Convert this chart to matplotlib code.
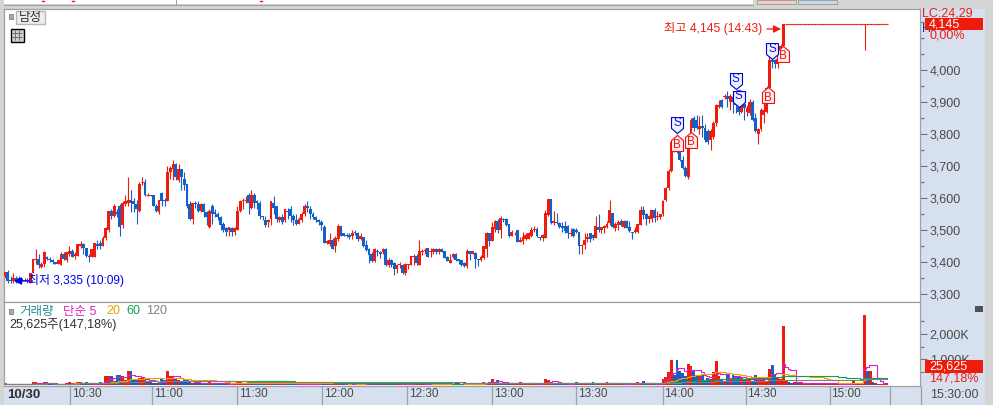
import numpy as np
import pandas as pd
import matplotlib
matplotlib.use("Agg")
import matplotlib.pyplot as plt
from matplotlib.patches import Rectangle
from matplotlib.path import Path

plt.rcParams['font.family'] = ['Liberation Sans', 'Noto Sans CJK KR', 'DejaVu Sans']

# 1 minute candles, one row of numbers = 10 candles
opens = [
    3355,3370,3345,3340,3350,3350,3345,3340,3345,3335,
    3365,3405,3410,3385,3395,3415,3410,3405,3400,3395,
    3390,3425,3405,3425,3435,3420,3420,3450,3455,3445,
    3420,3415,3415,3455,3460,3450,3475,3500,3560,3545,
    3555,3575,3515,3580,3585,3595,3590,3580,3560,3650,
    3650,3610,3610,3610,3575,3555,3615,3595,3590,3680,
    3690,3705,3655,3690,3660,3645,3580,3535,3585,3580,
    3560,3580,3555,3510,3575,3555,3550,3540,3520,3505,
    3500,3505,3495,3500,3560,3590,3595,3610,3570,3610,
    3590,3585,3545,3530,3525,3535,3585,3575,3530,3540,
    3530,3560,3565,3545,3530,3520,3530,3550,3575,3565,
    3550,3540,3530,3525,3510,3460,3455,3470,3450,3472,
    3512,3490,3485,3485,3482,3493,3492,3472,3477,3452,
    3440,3425,3403,3434,3432,3432,3440,3390,3406,3398,
    3378,3390,3390,3366,3392,3391,3417,3419,3390,3431,
    3434,3444,3432,3432,3440,3432,3440,3434,3415,3398,
    3416,3425,3409,3405,3398,3388,3434,3426,3428,3408,
    3406,3414,3440,3490,3467,3502,3528,3500,3535,3535,
    3519,3482,3490,3500,3464,3467,3471,3473,3481,3500,
    3503,3477,3476,3476,3548,3597,3523,3525,3523,3512,
    3512,3512,3487,3503,3500,3493,3450,3453,3472,3490,
    3484,3476,3508,3500,3507,3508,3521,3553,3507,3517,
    3528,3509,3528,3509,3495,3493,3493,3516,3562,3550,
    3533,3534,3562,3540,3540,3550,3595,3630,3685,3775,
    3770,3745,3720,3695,3665,3765,3850,3845,3815,3825,
    3820,3810,3780,3790,3835,3885,3905,3915,3920,3900,
    3915,3900,3885,3870,3895,3870,3865,3900,3850,3800,
    3815,3860,3870,3945,4030,4030,4020,4035,4075,
]
highs = [
    3370,3375,3355,3365,3355,3355,3350,3350,3350,3365,
    3410,3440,3425,3400,3435,3420,3415,3410,3400,3405,
    3430,3430,3430,3450,3440,3430,3455,3465,3460,3445,
    3425,3440,3460,3470,3470,3480,3510,3560,3565,3580,
    3565,3580,3590,3610,3665,3625,3600,3595,3650,3665,
    3660,3615,3610,3610,3580,3595,3620,3600,3700,3700,
    3720,3710,3705,3690,3680,3645,3590,3585,3590,3590,
    3585,3585,3560,3565,3580,3565,3555,3545,3525,3510,
    3510,3510,3510,3575,3595,3600,3605,3615,3625,3615,
    3595,3590,3545,3545,3535,3590,3605,3575,3545,3550,
    3565,3570,3575,3550,3550,3540,3555,3580,3590,3575,
    3555,3545,3535,3530,3515,3470,3490,3475,3480,3518,
    3512,3492,3490,3490,3500,3500,3495,3490,3477,3468,
    3445,3430,3445,3440,3435,3445,3445,3412,3410,3400,
    3395,3400,3395,3398,3395,3420,3425,3425,3468,3440,
    3445,3445,3445,3445,3445,3445,3443,3435,3418,3425,
    3428,3428,3410,3405,3400,3440,3435,3435,3430,3410,
    3422,3450,3493,3490,3525,3530,3535,3543,3537,3537,
    3520,3500,3495,3500,3477,3495,3490,3495,3508,3512,
    3510,3478,3486,3562,3597,3597,3560,3552,3525,3525,
    3528,3515,3507,3506,3505,3493,3455,3490,3490,3490,
    3486,3544,3550,3510,3515,3528,3594,3553,3525,3530,
    3533,3530,3530,3528,3495,3508,3520,3575,3575,3552,
    3548,3562,3568,3560,3550,3595,3635,3690,3780,3790,
    3800,3775,3730,3700,3775,3850,3855,3860,3855,3860,
    3830,3815,3815,3840,3895,3905,3910,3925,3935,3925,
    3930,3915,3890,3895,3900,3890,3910,3905,3865,3820,
    3880,3900,3950,4050,4045,4035,4040,4080,4145,
]
lows = [
    3350,3335,3335,3335,3335,3340,3340,3340,3335,3335,
    3365,3395,3380,3380,3385,3405,3400,3395,3395,3395,
    3390,3405,3400,3420,3415,3410,3420,3445,3425,3415,
    3400,3415,3415,3440,3440,3450,3470,3495,3535,3540,
    3540,3480,3505,3575,3575,3555,3555,3520,3555,3640,
    3605,3605,3605,3575,3555,3550,3575,3575,3590,3660,
    3655,3655,3650,3625,3625,3570,3530,3520,3570,3555,
    3555,3540,3515,3505,3520,3540,3530,3500,3495,3480,
    3480,3480,3485,3500,3555,3565,3585,3550,3565,3570,
    3565,3535,3530,3510,3510,3515,3550,3525,3525,3520,
    3525,3535,3525,3515,3515,3520,3525,3545,3555,3535,
    3535,3525,3515,3500,3460,3455,3450,3440,3432,3465,
    3480,3480,3478,3472,3472,3485,3465,3470,3447,3435,
    3398,3400,3400,3420,3412,3425,3388,3385,3385,3358,
    3365,3380,3362,3358,3378,3390,3390,3390,3390,3422,
    3425,3415,3415,3425,3425,3425,3430,3412,3402,3397,
    3412,3403,3395,3388,3385,3382,3406,3425,3382,3388,
    3403,3408,3415,3450,3465,3495,3490,3476,3525,3512,
    3478,3480,3485,3462,3462,3456,3468,3472,3478,3495,
    3478,3470,3467,3474,3545,3520,3515,3520,3505,3495,
    3490,3476,3480,3478,3490,3425,3425,3440,3463,3464,
    3470,3474,3495,3492,3492,3505,3515,3505,3497,3500,
    3512,3505,3505,3493,3472,3490,3490,3515,3535,3516,
    3523,3526,3526,3530,3535,3545,3590,3625,3680,3745,
    3740,3715,3690,3665,3660,3755,3810,3815,3800,3790,
    3775,3770,3750,3785,3825,3880,3880,3910,3885,3875,
    3865,3865,3860,3865,3845,3855,3860,3840,3805,3770,
    3810,3835,3865,3940,4005,4005,4005,4030,4070,
]
closes = [
    3370,3340,3340,3350,3340,3345,3340,3345,3340,3365,
    3410,3410,3390,3395,3430,3410,3405,3400,3395,3405,
    3425,3410,3430,3435,3415,3425,3455,3455,3445,3420,
    3415,3440,3460,3450,3450,3475,3505,3560,3545,3575,
    3550,3510,3585,3590,3595,3585,3580,3565,3645,3650,
    3610,3610,3605,3575,3560,3595,3590,3590,3680,3695,
    3705,3665,3690,3665,3640,3575,3535,3585,3580,3560,
    3580,3555,3540,3560,3550,3550,3540,3515,3500,3495,
    3510,3495,3505,3560,3590,3595,3595,3585,3610,3585,
    3585,3545,3540,3515,3530,3590,3570,3535,3540,3525,
    3565,3555,3545,3530,3520,3535,3550,3575,3570,3550,
    3540,3530,3525,3515,3460,3465,3470,3440,3475,3512,
    3482,3482,3482,3478,3492,3490,3472,3482,3450,3437,
    3422,3403,3440,3431,3425,3440,3390,3406,3390,3378,
    3390,3394,3366,3393,3393,3419,3419,3396,3434,3434,
    3436,3417,3434,3440,3432,3440,3432,3413,3403,3406,
    3425,3406,3404,3390,3388,3434,3426,3434,3408,3406,
    3417,3450,3490,3467,3510,3528,3500,3537,3532,3515,
    3482,3493,3492,3464,3469,3477,3484,3490,3500,3503,
    3481,3475,3484,3552,3597,3523,3528,3523,3508,3507,
    3497,3492,3492,3482,3493,3450,3453,3469,3477,3472,
    3475,3512,3500,3508,3512,3519,3562,3508,3519,3526,
    3516,3528,3505,3497,3492,3500,3519,3562,3547,3533,
    3545,3562,3536,3545,3550,3590,3630,3685,3775,3750,
    3745,3720,3695,3670,3770,3845,3820,3820,3825,3820,
    3780,3775,3810,3835,3890,3890,3885,3920,3910,3920,
    3900,3890,3870,3890,3880,3880,3900,3845,3810,3815,
    3875,3875,3945,4030,4025,4020,4035,4075,4145,
]

# after the day high it stays at 4,145, one trade dips just after 15:00
tail_flat = [4145,4145,4145,4145,4145,4145,4145,4145,4145,4145,
             4145,4145,4145,4145,4145,4145,4145,4145,4145,4145,
             4145,4145,4145,4145,4145,4145,4145,4145,4145,4145,
             4145,4145,4145,4145,4145,4145,4145]
tail_lows = [4145,4145,4145,4145,4145,4145,4145,4145,4145,4145,
             4145,4145,4145,4145,4145,4145,4145,4145,4145,4145,
             4145,4145,4145,4145,4145,4145,4145,4145,4062,4145,
             4145,4145,4145,4145,4145,4145,4145]
opens = opens + tail_flat
highs = highs + tail_flat
lows = lows + tail_lows
closes = closes + tail_flat

# volume in K shares
volumes = [
    60,55,50,45,45,30,30,20,20,30,
    120,120,50,70,105,100,50,45,30,30,
    40,45,60,110,50,40,110,110,60,105,
    40,30,50,60,120,60,355,355,355,170,
    380,380,355,200,550,550,250,200,260,260,
    260,150,120,90,90,70,250,180,550,355,
    355,260,190,170,220,150,120,90,70,90,
    60,90,70,110,70,90,60,50,70,50,
    60,50,90,110,120,50,60,60,90,60,
    50,60,90,70,60,100,120,80,60,40,
    90,50,70,60,30,30,60,70,50,50,
    40,50,60,110,50,60,90,80,40,60,
    90,50,40,30,60,40,40,60,50,90,
    70,50,60,100,40,50,70,120,50,60,
    40,60,30,60,50,90,40,60,100,40,
    30,60,40,30,60,50,70,70,50,40,
    50,60,60,50,110,50,40,60,30,50,
    60,130,70,130,220,110,180,70,50,90,
    60,40,70,50,100,60,90,90,50,60,
    40,50,50,250,200,130,70,60,50,60,
    70,40,60,50,130,60,90,60,50,40,
    100,80,50,40,60,130,90,60,50,70,
    60,50,60,40,40,70,100,50,160,40,
    40,30,40,60,60,225,300,490,990,400,
    990,530,460,350,830,750,550,400,400,400,
    200,270,240,490,950,360,200,150,440,210,
    400,360,330,270,230,200,270,130,400,190,
    270,200,170,630,790,440,300,250,2310,200,
    130,80,130,100,90,60,60,70,60,50,
    70,50,70,60,70,50,70,50,40,50,
    40,40,50,160,70,90,50,2730,530,530,
    130,60,40,40,70,60,
]
# doji minutes whose volume bar is still blue
blue_doji = [280, 281, 283, 285, 288, 291, 295, 300, 305, 308, 310, 312]

price_ticks = [3300, 3400, 3500, 3600, 3700, 3800, 3900, 4000]
price_minor = [3350, 3450, 3550, 3650, 3750, 3850, 3950, 4050, 4100, 4150]
vol_major = [1000, 2000]
vol_minor = [500, 1500, 2500]
time_labels = ['10:30', '11:00', '11:30', '12:00', '12:30', '13:00', '13:30', '14:00', '14:30', '15:00']
time_pos = [23.2, 52.6, 82.9, 113.2, 143.6, 174.0, 204.0, 234.9, 264.5, 294.5]
ma_periods = [5, 20, 60, 120]
ma_colors = ['#e020c0', '#f0a000', '#10a050', '#808080']

# signal tags: index, price
sell_x = [240, 261, 262, 274]
sell_y = [3802, 3940, 3885, 4033]
buy_x = [240, 245, 272.6, 277.8]
buy_y = [3797, 3807, 3946, 4076]

RED = '#ee1c0c'
BLUE = '#1560c8'
BAND = '#d6e0ef'
GREY = '#d4d4d4'
LINE = '#a0a0a0'
TXT = '#4a4a4a'
W, H = 993, 405


def px_axes(fig, x0, y0, x1, y1):
    return fig.add_axes([x0 / W, 1 - y1 / H, (x1 - x0) / W, (y1 - y0) / H])


fig = plt.figure(figsize=(W / 100, H / 100), dpi=100)

# window furniture, in pixels
bg = fig.add_axes([0, 0, 1, 1], zorder=0)
bg.set_xlim(0, W)
bg.set_ylim(H, 0)
bg.axis('off')
bg.add_patch(Rectangle((0, 0), W, H, fc=GREY, ec='none'))
bg.add_patch(Rectangle((4, 0), 749, 4, fc='white', ec='none'))
bg.add_patch(Rectangle((757, 0), 39, 4, fc='#f4cfc8', ec=LINE, lw=0.7))
bg.add_patch(Rectangle((798, 0), 39, 4, fc='#c4d8ee', ec=LINE, lw=0.7))
bg.plot([176, 176], [0, 4], color=LINE, lw=0.7)
bg.plot([4, 753], [4.5, 4.5], color=LINE, lw=0.8)
bg.add_patch(Rectangle((921, 9), 64, 377, fc=BAND, ec='none'))
bg.add_patch(Rectangle((4, 386), 981, 19, fc=BAND, ec='none'))
for xp in [42, 72, 260]:
    bg.plot([xp, xp + 2], [0.5, 0.5], color=RED, lw=1)

x = np.arange(len(opens))
o = np.array(opens)
c = np.array(closes)
colors = [RED if c[i] >= o[i] else BLUE for i in x]
vol_colors = [BLUE if i in blue_doji else colors[i] for i in x]

# x limits so that candle i sits at 5 + 2.8*i px
xlim = ((4 - 5) / 2.8, (920 - 5) / 2.8)

# price panel
ax = px_axes(fig, 4, 9, 920, 302)
ax.set_zorder(1)
ax.set_xlim(*xlim)
ax.set_ylim(4000 - 232 * 3.125, 4000 + 61 * 3.125)
ax.vlines(x, lows, highs, colors=colors, lw=0.8, zorder=2)
ax.bar(x, c - o, bottom=o, width=1.05, color=colors, lw=0, zorder=3)
# a doji still shows as a dash
doji = c == o
ax.hlines(o[doji], x[doji] - 0.5, x[doji] + 0.5, color=RED, lw=0.8, zorder=3)
ax.set_xticks([])
ax.yaxis.tick_right()
ax.set_yticks(price_ticks)
ax.set_yticklabels([f'{v:,}' for v in price_ticks], fontsize=9, color=TXT)
ax.set_yticks(price_minor, minor=True)
ax.tick_params(axis='y', which='major', length=5, width=0.8, color='#707070', pad=2)
ax.tick_params(axis='y', which='minor', length=3, width=0.8, color='#707070')
for s in ax.spines.values():
    s.set_color(LINE)
    s.set_linewidth(0.9)

# S / B tags, tip of the pentagon on the price
s_tag = Path([(0, 0), (6, 5), (6, 16), (-6, 16), (-6, 5), (0, 0)], closed=True)
b_tag = Path([(0, 0), (6, -5), (6, -16), (-6, -16), (-6, -5), (0, 0)], closed=True)
ax.plot(buy_x, buy_y, ls='none', marker=b_tag, ms=23, mfc='#fdeeee', mec='#f01010', mew=0.8, zorder=5)
ax.plot(sell_x, sell_y, ls='none', marker=s_tag, ms=23, mfc='#eef2ff', mec='#0000d0', mew=0.8, zorder=6)
for bx, by in zip(buy_x, buy_y):
    ax.annotate('B', (bx, by), xytext=(0, -7.5), textcoords='offset points', ha='center', va='center',
                fontsize=8.5, color='#f01010', zorder=7)
for sx, sy in zip(sell_x, sell_y):
    ax.annotate('S', (sx, sy), xytext=(0, 7.5), textcoords='offset points', ha='center', va='center',
                fontsize=8.5, color='#1010e0', zorder=8)

# volume panel
vax = px_axes(fig, 4, 302, 920, 386)
vax.set_zorder(1)
vax.set_xlim(*xlim)
vax.set_ylim(-40, 83 / 0.0252 - 40)
vax.bar(x, volumes, width=1.0, color=vol_colors, lw=0, zorder=2)
vol_series = pd.Series(volumes, dtype=float)
for n, col in zip(ma_periods, ma_colors):
    vax.plot(x, vol_series.rolling(n, min_periods=1).mean(), color=col, lw=0.8, drawstyle='steps-mid', zorder=3)
vax.set_xticks([])
vax.yaxis.tick_right()
vax.set_yticks(vol_major)
vax.set_yticklabels([f'{v:,}K' for v in vol_major], fontsize=9, color=TXT)
vax.set_yticks(vol_minor, minor=True)
vax.tick_params(axis='y', which='major', length=5, width=0.8, color='#707070', pad=2)
vax.tick_params(axis='y', which='minor', length=3, width=0.8, color='#707070')
for s in vax.spines.values():
    s.set_color(LINE)
    s.set_linewidth(0.9)

# time band under the volume panel
tax = px_axes(fig, 4, 386, 920, 405)
tax.set_zorder(1)
tax.set_xlim(*xlim)
tax.set_ylim(1, 0)
tax.patch.set_alpha(0)
tax.set_yticks([])
tax.set_xticks([])
for s in tax.spines.values():
    s.set_visible(False)
tax.vlines(time_pos + [316], 0, 1, color=LINE, lw=0.9)
for tp, lab in zip(time_pos, time_labels):
    tax.annotate(lab, (tp, 0.42), xytext=(1.2, 0), textcoords='offset points', ha='left', va='center',
                 fontsize=8.5, color=TXT)

# texts and price boxes on top, in pixels
top = fig.add_axes([0, 0, 1, 1], zorder=3)
top.set_xlim(0, W)
top.set_ylim(H, 0)
top.axis('off')
top.patch.set_alpha(0)


def label(xp, yp, s, color, size=9, **kw):
    top.text(xp, yp, s, color=color, fontsize=size, va='center', **kw)


top.vlines(920.5, 386, 405, color=LINE, lw=0.9)
label(922, 14, 'LC:24,29', RED, clip_on=True)
label(922, 29, 'H', '#1030c0')
top.add_patch(Rectangle((925, 18), 58, 12, fc=RED, ec='none', zorder=3))
label(929, 24.5, '4,145', 'white', zorder=4)
label(929, 36, '0,00%', RED)
top.add_patch(Rectangle((925, 360), 58, 13, fc=RED, ec='none', zorder=3))
label(929, 366.5, '25,625', 'white', zorder=4)
label(929, 378.5, '147,18%', RED)
label(930, 395, '15:30:00', TXT)

# high / low callouts
label(664, 28.5, '최고 4,145 (14:43)', RED, size=8.8)
top.annotate('', xy=(781, 29), xytext=(767, 29),
             arrowprops=dict(arrowstyle='-|>', color=RED, lw=0.9, mutation_scale=11, shrinkA=0, shrinkB=0))
label(28, 280.5, '최저 3,335 (10:09)', '#0000f0', size=8.6)
top.annotate('', xy=(14, 281), xytext=(30, 281),
             arrowprops=dict(arrowstyle='-|>', color='#0000f0', lw=0.9, mutation_scale=11, shrinkA=0, shrinkB=0))

# top left controls
top.add_patch(Rectangle((8.5, 14), 4, 5, fc='#a8a8a8', ec='#808080', lw=0.6))
top.add_patch(Rectangle((15.5, 10.5), 29, 13.5, fc='#eeeeee', ec='#b8b8b8', lw=1))
label(30, 17.5, '남성', '#303030', ha='center')
top.add_patch(Rectangle((10.5, 28.5), 13, 13, fc='#d0d0d0', ec='black', lw=1))
top.vlines([15, 19], 30, 40, color='#707070', lw=0.7)
top.hlines([33, 37], 12, 22, color='#707070', lw=0.7)

# volume legend
top.add_patch(Rectangle((8.5, 308.5), 4, 5, fc='#a8a8a8', ec='#808080', lw=0.6))
label(19, 311.5, '거래량', '#2a8f8f')
label(63, 311.5, '단순 5', '#e020c0')
label(106, 311.5, '20', '#f0a000')
label(126, 311.5, '60', '#10a050')
label(146, 311.5, '120', '#808080')
label(9, 325, '25,625주(147,18%)', '#303030')
label(7, 394.5, '10/30', '#303030', fontweight='bold', size=9.5)
top.add_patch(Rectangle((975, 306), 8, 6, fc='#505050', ec='none'))

fig.savefig('out.png', dpi=100)
